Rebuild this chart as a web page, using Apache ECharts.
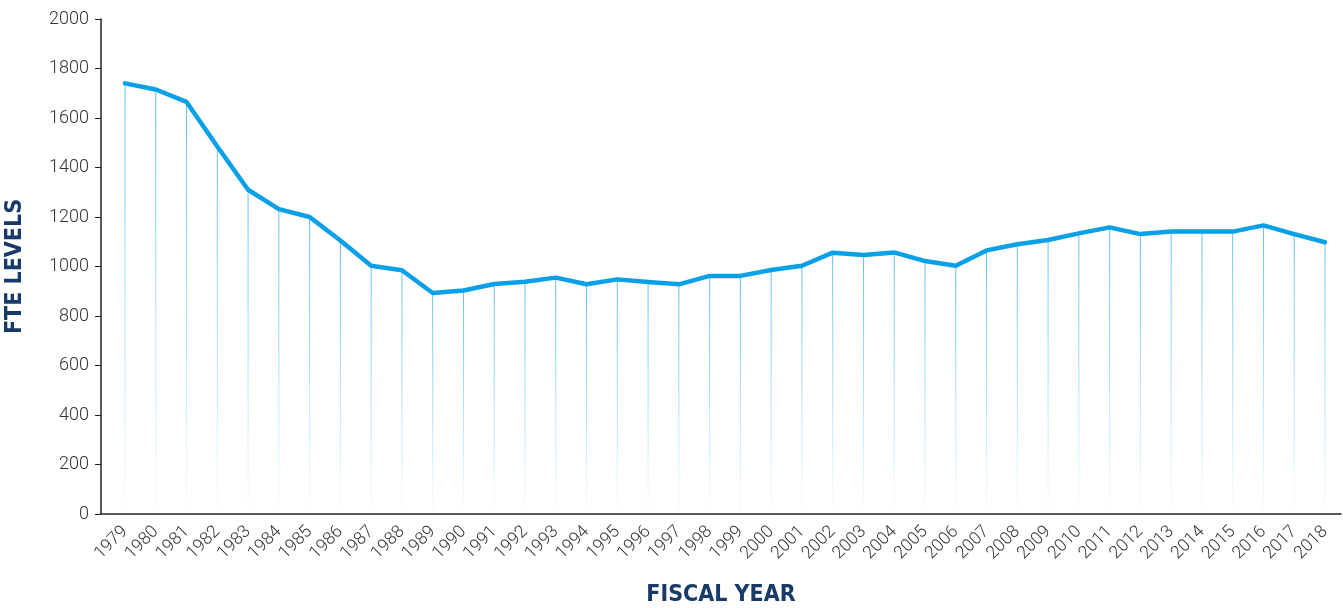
<!DOCTYPE html>
<html>
<head>
<meta charset="utf-8">
<script src="https://cdn.jsdelivr.net/npm/echarts@6/dist/echarts.min.js"></script>
<style>
  html, body { margin: 0; padding: 0; background: #fff; }
  #main { width: 1343px; height: 608px; }
</style>
</head>
<body>
<div id="main"></div>
<script>
var years = [1979, 1980, 1981, 1982, 1983, 1984, 1985, 1986, 1987, 1988,
    1989, 1990, 1991, 1992, 1993, 1994, 1995, 1996, 1997, 1998,
    1999, 2000, 2001, 2002, 2003, 2004, 2005, 2006, 2007, 2008,
    2009, 2010, 2011, 2012, 2013, 2014, 2015, 2016, 2017, 2018];
var fteLevels = [1740, 1715, 1665, 1485, 1310, 1232, 1200, 1105, 1003, 985,
    893, 903, 929, 938, 955, 928, 948, 937, 928, 962,
    962, 986, 1003, 1056, 1046, 1057, 1022, 1003, 1065, 1090,
    1107, 1134, 1158, 1131, 1141, 1141, 1141, 1166, 1131, 1098];
var yTicks = [0, 200, 400, 600, 800, 1000, 1200, 1400, 1600, 1800, 2000];

var points = years.map(function (y, i) { return [y, fteLevels[i]]; });

var nameFont = {
    fontFamily: '"Liberation Sans Narrow", "DejaVu Sans Condensed", sans-serif',
    fontWeight: 'bold',
    fontSize: 23,
    color: '#173a68'
};

var myChart = echarts.init(document.getElementById('main'));
var option = {
    animation: false,
    grid: { left: 101, right: 2, top: 19, bottom: 94, outerBoundsMode: 'none', containLabel: false },
    xAxis: {
        type: 'value',
        min: 1978.22,
        max: 2018.52,
        name: 'FISCAL YEAR',
        nameLocation: 'middle',
        nameGap: 70,
        nameTextStyle: nameFont,
        axisLine: { show: true, lineStyle: { color: '#222', width: 1.5 } },
        axisTick: { show: false },
        splitLine: { show: false },
        axisLabel: {
            customValues: years,
            formatter: function (v) { return String(v); },
            rotate: 45,
            margin: 15,
            fontFamily: 'Roboto, sans-serif',
            fontWeight: 300,
            fontSize: 17.5,
            color: '#333'
        }
    },
    yAxis: {
        type: 'value',
        min: 0,
        max: 2000,
        interval: 200,
        name: 'FTE LEVELS',
        nameLocation: 'middle',
        nameGap: 74,
        nameTextStyle: nameFont,
        axisLine: { show: true, lineStyle: { color: '#222', width: 1.5 } },
        axisTick: { show: true, length: 6, lineStyle: { color: '#222' } },
        splitLine: { show: false },
        axisLabel: {
            customValues: yTicks,
            formatter: function (v) { return String(v); },
            margin: 12,
            fontFamily: 'Roboto, sans-serif',
            fontWeight: 300,
            fontSize: 18,
            color: '#333'
        }
    },
    series: [
        {
            type: 'bar',
            barWidth: 1,
            data: points,
            itemStyle: {
                color: new echarts.graphic.LinearGradient(0, 0, 0, 1, [
                    { offset: 0, color: 'rgba(90,190,240,0.95)' },
                    { offset: 1, color: 'rgba(90,190,240,0.03)' }
                ])
            },
            z: 1
        },
        {
            type: 'line',
            data: points,
            showSymbol: false,
            lineStyle: { color: '#08a0e6', width: 4.5, cap: 'round', join: 'round' },
            z: 3
        }
    ]
};
myChart.setOption(option);
</script>
</body>
</html>
